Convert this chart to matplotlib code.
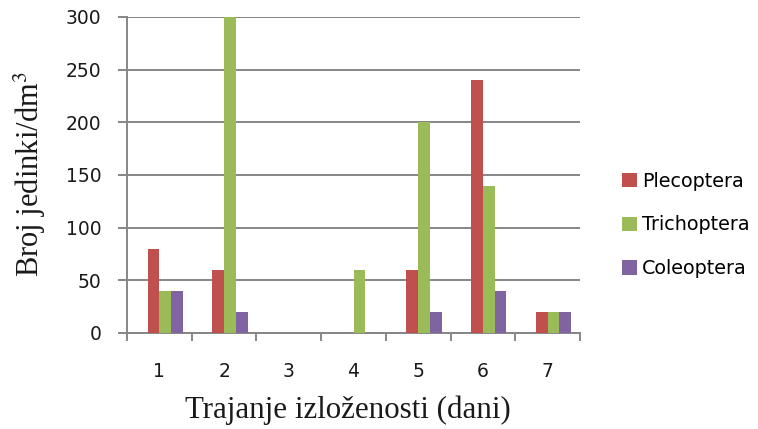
import matplotlib
matplotlib.use("Agg")
import matplotlib.pyplot as plt
import numpy as np

days = [1, 2, 3, 4, 5, 6, 7]
plecoptera = [80, 60, 0, 0, 60, 240, 20]
trichoptera = [40, 300, 0, 60, 200, 140, 20]
coleoptera = [40, 20, 0, 0, 20, 40, 20]
series_names = ["Plecoptera", "Trichoptera", "Coleoptera"]
colors = ["#C0504D", "#9BBB59", "#8064A2"]
y_ticks = [0, 50, 100, 150, 200, 250, 300]

fig = plt.figure(figsize=(7.58, 4.29), dpi=100)
ax = fig.add_axes([127 / 758, 1 - 333 / 429, (580 - 127) / 758, (333 - 17) / 429])

x = np.array(days, dtype=float)
w = 0.182
for k, (vals, name, col) in enumerate(zip([plecoptera, trichoptera, coleoptera], series_names, colors)):
    ax.bar(x + (k - 0.5) * w, vals, width=w, color=col, label=name, zorder=3)

grid_col = "#868686"
ax.set_xlim(0.5, 7.5)
ax.set_ylim(0, 300)
ax.set_yticks(y_ticks)
ax.yaxis.grid(True, color=grid_col, linewidth=1.4, zorder=0)
ax.set_axisbelow(True)

ax.set_xticks(days)
ax.set_xticks(np.arange(0.5, 8.0, 1.0), minor=True)
ax.tick_params(axis="x", which="major", length=0, pad=21, labelsize=13.5, labelcolor="#1a1a1a")
ax.tick_params(axis="x", which="minor", length=6, width=1.4, color=grid_col, direction="out")
ax.tick_params(axis="y", which="major", length=6.5, width=1.4, color=grid_col, pad=12,
               labelsize=13.5, labelcolor="#1a1a1a")

for side in ["top", "right"]:
    ax.spines[side].set_visible(False)
for side in ["left", "bottom"]:
    ax.spines[side].set_color(grid_col)
    ax.spines[side].set_linewidth(1.4)

fig.text(348 / 758, 1 - 410 / 429, "Trajanje izloženosti (dani)",
         family="Liberation Serif", fontsize=22.3, ha="center", va="center", color="#1a1a1a")
fig.text(30 / 758, 1 - 174 / 429, "Broj jedinki/dm$^3$",
         family="Liberation Serif", fontsize=22, ha="center", va="center", color="#1a1a1a",
         rotation=90, math_fontfamily="stix")

fig.legend(loc="center left", bbox_to_anchor=(622 / 758, 1 - 225 / 429),
           frameon=False, fontsize=13.8, handlelength=0.8, handleheight=0.8,
           handletextpad=0.25, labelspacing=1.3, borderpad=0, borderaxespad=0)

fig.savefig("out.png", dpi=100)
